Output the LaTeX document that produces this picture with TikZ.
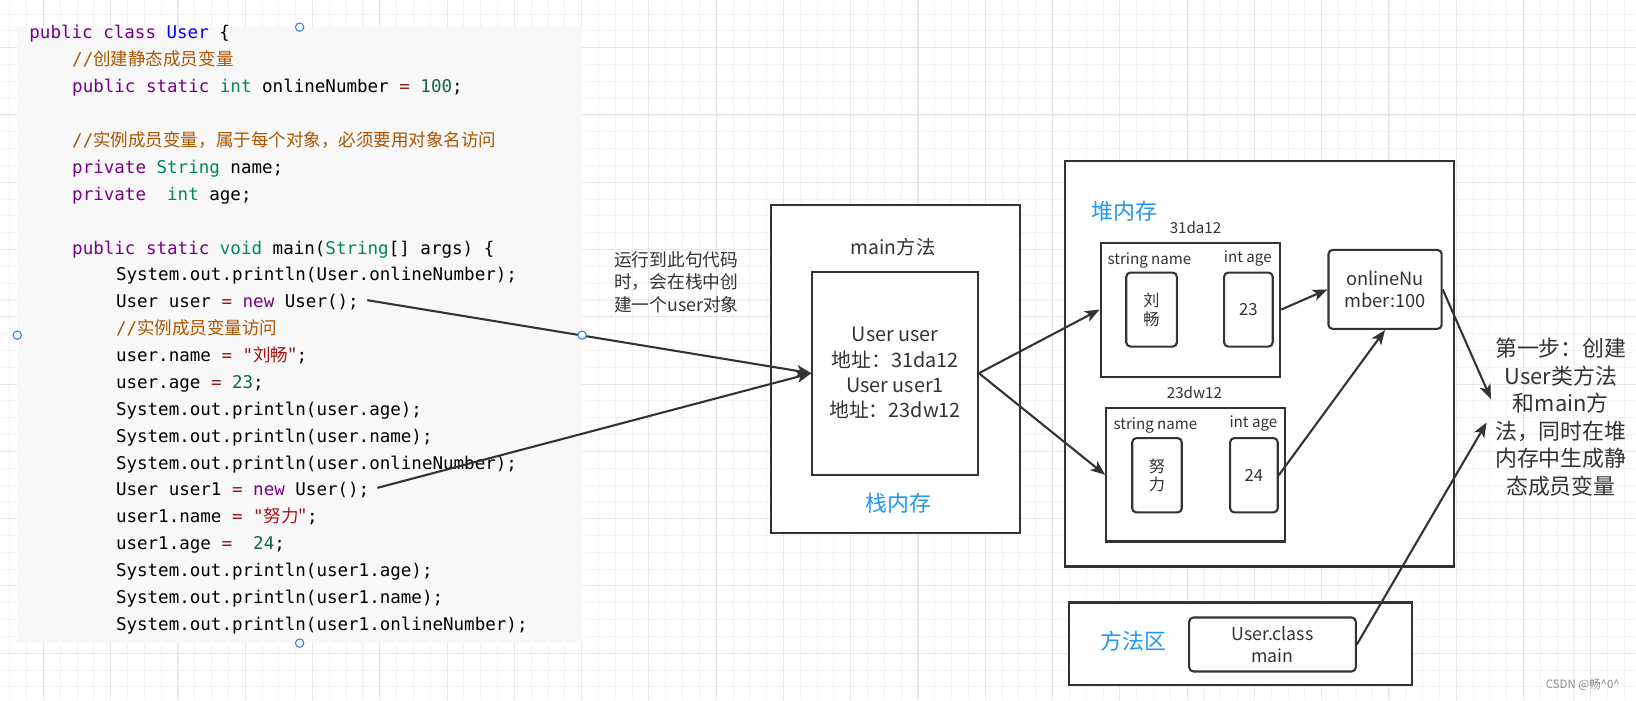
\documentclass[tikz,border=0pt]{standalone}
\usepackage{fontspec}
\usetikzlibrary{arrows.meta}
\newfontfamily\cjk{Noto Sans CJK SC}
\newfontfamily\codefont{DejaVu Sans Mono}[Ligatures=TeXOff]
\definecolor{linec}{HTML}{333333}
\definecolor{panelc}{HTML}{F8F8F8}
\definecolor{kwc}{HTML}{770088}
\definecolor{tyc}{HTML}{008855}
\definecolor{dfc}{HTML}{0000FF}
\definecolor{numc}{HTML}{116644}
\definecolor{strc}{HTML}{AA1111}
\definecolor{cmtc}{HTML}{AA5500}
\definecolor{opc}{HTML}{981A1A}
\definecolor{bluec}{HTML}{2196F3}
\definecolor{handlec}{HTML}{2E7CF6}
\definecolor{gridminor}{HTML}{F2F2F2}
\definecolor{gridmajor}{HTML}{E6E6E6}
\newcommand\jkw[1]{\textcolor{kwc}{#1}}
\newcommand\jty[1]{\textcolor{tyc}{#1}}
\newcommand\jdef[1]{\textcolor{dfc}{#1}}
\newcommand\jnum[1]{\textcolor{numc}{#1}}
\newcommand\jstr[1]{\textcolor{strc}{#1}}
\newcommand\jcmt[1]{\textcolor{cmtc}{#1}}
\newcommand\jop[1]{\textcolor{opc}{#1}}
\newcommand\fs[2]{\fontsize{#1}{#2}\selectfont}

\begin{document}
\begin{tikzpicture}[
    x=1pt, y=-1pt,
    box/.style={draw=linec, line width=2pt, fill=white, inner sep=0pt,
        align=center, text=linec},
    valbox/.style={box, rounded corners=4pt},
    codeline/.style={anchor=west, inner sep=0pt, text height=12pt,
        text depth=3.5pt, font=\codefont\fs{16.8}{20}},
    lbl/.style={text=linec, inner sep=0pt, align=center},
    fieldlbl/.style={lbl, font=\cjk\fs{14.5}{17}},
    area/.style={lbl, text=bluec, font=\cjk\fs{21}{25}},
    conn/.style={draw=linec, line width=2pt,
        -{Stealth[length=14pt,width=11pt,inset=3.5pt]}},
    handle/.style={circle, draw=handlec, fill=white, line width=1pt,
        minimum size=8pt, inner sep=0pt}
    ]

\useasboundingbox (0,0) rectangle (1568,671);
\fill[white] (0,0) rectangle (1568,671);

%grid
\foreach \k in {0,...,96}
    \draw[gridminor, line width=1pt] ({9.4+16.12*\k},0) -- ++(0,671);
\foreach \k in {0,...,40}
    \draw[gridminor, line width=1pt] (0,{13.5+16.12*\k}) -- ++(1568,0);
\foreach \k in {0,...,23}
    \draw[gridmajor, line width=1pt] ({41.6+64.48*\k},0) -- ++(0,671);
\foreach \k in {0,...,9}
    \draw[gridmajor, line width=1pt] (0,{45.7+64.48*\k}) -- ++(1568,0);

%code
\node[fill=panelc, minimum width=541pt, minimum height=590pt, inner sep=0pt,
    anchor=north west] (codepanel) at (16.5,26) {};
\node[codeline] (c1) at (28,33) {\jkw{public} \jkw{class} \jdef{User} \{};
\node[codeline] (c2) at (69,58.8) {\jcmt{//\cjk{创建静态成员变量}}};
\node[codeline] (c3) at (69,84.5) {\jkw{public} \jkw{static} \jty{int} onlineNumber \jop{=} \jnum{100};};
\node[codeline] (c5) at (69,136.1) {\jcmt{//\cjk{实例成员变量，属于每个对象，必须要用对象名访问}}};
\node[codeline] (c6) at (69,161.9) {\jkw{private} \jty{String} name;};
\node[codeline] (c7) at (69,187.6) {\jkw{private}\ \ \jty{int} age;};
\node[codeline] (c9) at (69,239.2) {\jkw{public} \jkw{static} \jty{void} main(\jty{String}[] args) \{};
\node[codeline] (c10) at (111,264.9) {System.out.println(User.onlineNumber);};
\node[codeline] (c11) at (111,290.7) {User user \jop{=} \jkw{new} User();};
\node[codeline] (c12) at (111,316.5) {\jcmt{//\cjk{实例成员变量访问}}};
\node[codeline] (c13) at (111,342.2) {user.name \jop{=} \jstr{"\cjk{刘畅}"};};
\node[codeline] (c14) at (111,368) {user.age \jop{=} \jnum{23};};
\node[codeline] (c15) at (111,393.8) {System.out.println(user.age);};
\node[codeline] (c16) at (111,419.5) {System.out.println(user.name);};
\node[codeline] (c17) at (111,445.3) {System.out.println(user.onlineNumber);};
\node[codeline] (c18) at (111,471.1) {User user1 \jop{=} \jkw{new} User();};
\node[codeline] (c19) at (111,496.8) {user1.name \jop{=} \jstr{"\cjk{努力}"};};
\node[codeline] (c20) at (111,522.6) {user1.age \jop{=}\ \ \jnum{24};};
\node[codeline] (c21) at (111,548.4) {System.out.println(user1.age);};
\node[codeline] (c22) at (111,574.1) {System.out.println(user1.name);};
\node[codeline] (c23) at (111,599.9) {System.out.println(user1.onlineNumber);};

%stack
\node[lbl, align=left, anchor=west, font=\cjk\fs{17}{21.7}] (hint) at (588.5,270.5)
    {运行到此句代码\\时，会在栈中创\\建一个user对象};
\node[box, minimum width=238pt, minimum height=314.6pt] (stack) at (858.3,353.7) {};
\node[lbl, font=\cjk\fs{18.5}{22}] (stacktitle) at (856,237) {main方法};
\node[box, minimum width=158.6pt, minimum height=194.7pt, font=\cjk\fs{19}{24.3}]
    (frame) at (857.9,357.7) {User user\\地址：31da12\\User user1\\地址：23dw12};
\node[area] (stacklbl) at (861,482) {栈内存};

%heap
\node[box, minimum width=373pt, minimum height=388.7pt] (heap) at (1207.4,348.6) {};
\node[area, anchor=west] (heaplbl) at (1045.8,202.8) {堆内存};
\node[fieldlbl] (addr1) at (1145.8,218) {31da12};
\node[box, minimum width=172.1pt, minimum height=128.4pt] (obj1) at (1140.9,296.7) {};
\node[fieldlbl] (name1lbl) at (1101.7,250) {string name};
\node[fieldlbl] (age1lbl) at (1195.9,247.5) {int age};
\node[valbox, minimum width=48.5pt, minimum height=70.9pt, font=\cjk\fs{15.5}{18}]
    (name1) at (1103.7,296.7) {刘\\畅};
\node[valbox, minimum width=46.6pt, minimum height=70.9pt, font=\cjk\fs{16}{18}]
    (age1) at (1196.5,296.7) {23};
\node[fieldlbl] (addr2) at (1144.8,376.2) {23dw12};
\node[box, minimum width=171.8pt, minimum height=127.8pt] (obj2) at (1146.1,455.1) {};
\node[fieldlbl] (name2lbl) at (1107.4,408.1) {string name};
\node[fieldlbl] (age2lbl) at (1201.3,406.2) {int age};
\node[valbox, minimum width=47.5pt, minimum height=71.2pt, font=\cjk\fs{15.5}{18}]
    (name2) at (1108.9,455.5) {努\\力};
\node[valbox, minimum width=45.6pt, minimum height=71.2pt, font=\cjk\fs{16}{18}]
    (age2) at (1201.8,455.5) {24};
\node[valbox, minimum width=108.5pt, minimum height=75.7pt, font=\cjk\fs{17.5}{20.8}]
    (online) at (1327.5,277.4) {onlineNu\\mber:100};

%method area
\node[box, minimum width=329.4pt, minimum height=79.5pt] (method) at (1188.9,617.2) {};
\node[area] (methodlbl) at (1086.4,614.7) {方法区};
\node[valbox, minimum width=159.7pt, minimum height=51.7pt, font=\cjk\fs{17}{21.4}]
    (cls) at (1219.6,617.7) {User.class\\main};

%note
\node[lbl, font=\cjk\fs{21}{26.4}] (note) at (1496,400)
    {第一步：创建\\User类方法\\和main方\\法，同时在堆\\内存中生成静\\态成员变量};
\coordinate (tipA) at (1429,382.5);
\coordinate (tipB) at (1424.8,404.9);
\node[lbl, text=black!45, font=\cjk\fs{11}{13}] (mark) at (1517,656)
    {CSDN @畅\textasciicircum0\textasciicircum};

%arrows
\draw[conn] ([xshift=8pt,yshift=3pt]c11.east) -- (frame.west);
\draw[conn] ([xshift=7.5pt,yshift=3.5pt]c18.east) -- (frame.west);
\draw[conn] (frame.east) -- (obj1.west);
\draw[conn] (frame.east) -- (obj2.west);
\draw[conn] (obj1.east) -- (online.west);
\draw[conn] (age2.east) -- (online.south);
\draw[conn] (online.east) -- (tipA);
\draw[conn] (cls.east) -- (tipB);

%selection handles
\node[handle] (hn) at (codepanel.north) {};
\node[handle] (hs) at (codepanel.south) {};
\node[handle] (hw) at (codepanel.west) {};
\node[handle] (he) at (codepanel.east) {};
\end{tikzpicture}
\end{document}
